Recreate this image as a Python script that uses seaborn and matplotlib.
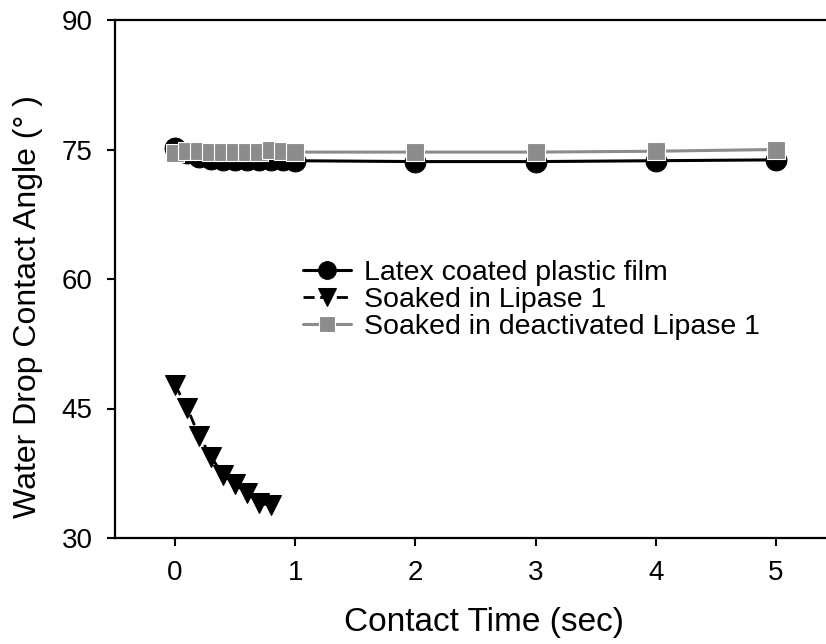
import matplotlib
matplotlib.use("Agg")
import matplotlib.pyplot as plt
import seaborn as sns

# Data
time_short = [0, 0.1, 0.2, 0.3, 0.4, 0.5, 0.6, 0.7, 0.8, 0.9, 1.0, 2, 3, 4, 5]
latex_angle = [75.2, 74.6, 74.1, 73.9, 73.8, 73.8, 73.8, 73.8, 73.8, 73.8, 73.7, 73.6, 73.6, 73.7, 73.8]
deact_angle = [74.6, 74.8, 74.8, 74.7, 74.7, 74.7, 74.7, 74.7, 74.9, 74.8, 74.7, 74.7, 74.7, 74.8, 75.0]

time_lipase = [0, 0.1, 0.2, 0.3, 0.4, 0.5, 0.6, 0.7, 0.8]
lipase_angle = [47.7, 45.1, 41.8, 39.4, 37.3, 36.2, 35.2, 34.0, 33.8]

labels = ["Latex coated plastic film", "Soaked in Lipase 1", "Soaked in deactivated Lipase 1"]
xticks = [0, 1, 2, 3, 4, 5]
yticks = [30, 45, 60, 75, 90]

sns.set_style("ticks")
plt.rcParams["font.family"] = ["Liberation Sans", "DejaVu Sans"]
plt.rcParams["text.color"] = "black"
plt.rcParams["axes.labelcolor"] = "black"
plt.rcParams["xtick.color"] = "black"
plt.rcParams["ytick.color"] = "black"

fig = plt.figure(figsize=(8.26, 6.44), dpi=100)
# right edge of the frame lies beyond the picture, as in the reference
ax = fig.add_axes([115 / 826, 106 / 644, 721 / 826, 518 / 644])

sns.lineplot(x=time_short, y=latex_angle, ax=ax, color="black", linewidth=2.2,
             marker="o", markersize=15, markeredgecolor="black",
             label=labels[0])
sns.lineplot(x=time_lipase, y=lipase_angle, ax=ax, color="black", linewidth=2.0,
             linestyle=(0, (4, 2)), marker="v", markersize=15,
             markeredgecolor="black", label=labels[1])
sns.lineplot(x=time_short, y=deact_angle, ax=ax, color="#8c8c8c", linewidth=2.2,
             marker="s", markersize=13.5, markeredgecolor="white",
             markeredgewidth=0.8, label=labels[2])

ax.set_xlim(-0.5, 5.5)
ax.set_ylim(30, 90)
ax.set_xticks(xticks)
ax.set_yticks(yticks)
ax.tick_params(axis="both", labelsize=20, direction="out", length=6,
               width=1.5, pad=10)

for side in ["left", "bottom", "top", "right"]:
    ax.spines[side].set_visible(True)
    ax.spines[side].set_linewidth(1.6)
    ax.spines[side].set_color("black")

ax.set_xlabel("Contact Time (sec)", fontsize=24)
ax.xaxis.set_label_coords(0.512, -0.133)
ax.set_ylabel("Water Drop Contact Angle (° )", fontsize=23)
ax.yaxis.set_label_coords(-0.1, 0.446)

ax.legend(loc="center left", bbox_to_anchor=(303 / 826, 1 - 300 / 644),
          bbox_transform=fig.transFigure, frameon=False, fontsize=20.5,
          borderpad=0, borderaxespad=0, handlelength=1.7, handletextpad=0.45,
          labelspacing=0.02, markerscale=0.85)

fig.savefig("out.png", dpi=100)
